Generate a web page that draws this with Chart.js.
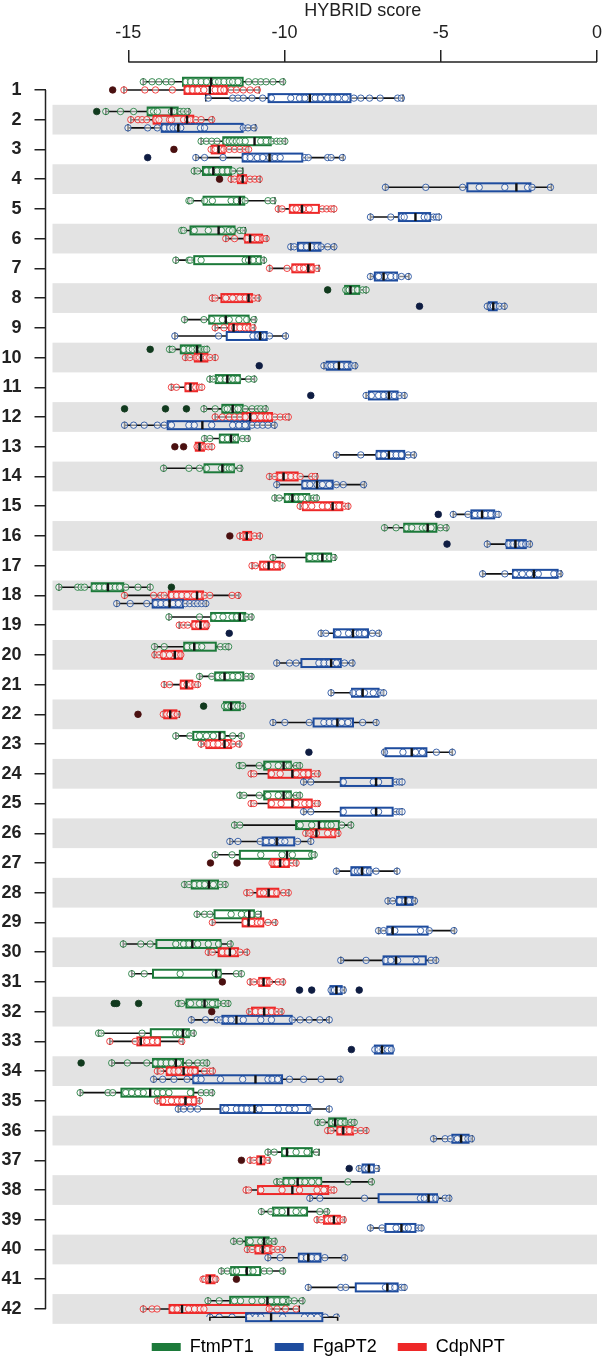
<!DOCTYPE html>
<html>
<head>
<meta charset="utf-8">
<title>HYBRID score</title>
<script src="https://cdn.jsdelivr.net/npm/chart.js@4.4.1/dist/chart.umd.min.js"></script>
<style>
  html, body { margin: 0; padding: 0; background: #fff; overflow: hidden; }
  #chart { display: block; }
</style>
</head>
<body>
<canvas id="chart" width="602" height="1359"></canvas>
<script>
// Kategoriler ve eksen etiketleri
const categories = Array.from({ length: 42 }, (_, i) => i + 1);
const xTicks = [-15, -10, -5, 0];
const xTitle = 'HYBRID score';

// FtmPT1: [alt bıyık, Q1, medyan, Q3, üst bıyık]
const ftmStats = [
  [-14.52, -13.25, -12.35, -11.34, -10.03], [-15.72, -14.38, -13.62, -13.42, -13.06], [-12.67, -11.96, -10.96, -10.44, -9.97],
  [-12.89, -12.61, -12.28, -11.71, -11.34], [-13.06, -12.59, -11.43, -11.29, -10.31], [-13.29, -13.01, -12.11, -11.6, -11.26],
  [-13.48, -12.89, -11.13, -10.76, -10.65], [-8.06, -8.06, -7.89, -7.61, -7.39], [-13.2, -12.41, -11.88, -11.15, -10.93],
  [-13.68, -13.32, -12.8, -12.69, -12.47], [-12.39, -12.2, -11.83, -11.43, -10.96], [-12.58, -11.99, -11.66, -11.34, -10.59],
  [-12.56, -12.07, -11.71, -11.49, -11.15], [-13.87, -12.56, -11.99, -11.62, -11.38], [-10.31, -9.99, -9.75, -9.21, -8.96],
  [-6.8, -6.17, -5.42, -5.14, -4.8], [-10.37, -9.3, -8.79, -8.51, -8.38], [-17.22, -16.17, -15.65, -15.16, -14.3],
  [-13.7, -12.35, -11.43, -11.26, -11.04], [-14.16, -13.21, -12.89, -12.2, -11.79], [-12.72, -12.22, -11.92, -11.32, -11.04],
  [-11.94, -11.94, -11.71, -11.43, -11.32], [-13.48, -12.92, -12.08, -11.92, -11.38], [-11.45, -10.65, -10.03, -9.8, -9.5],
  [-11.43, -10.65, -10.03, -9.8, -9.5], [-11.6, -9.63, -8.9, -8.26, -7.86], [-12.22, -11.43, -9.92, -9.13, -9.02],
  [-13.2, -12.97, -12.42, -12.13, -11.88], [-12.8, -12.24, -11.13, -10.98, -10.76], [-15.16, -14.1, -12.95, -12.05, -11.71],
  [-14.89, -14.21, -12.19, -12.05, -11.38], [-13.4, -13.14, -12.56, -12.13, -11.79], [-15.95, -14.28, -13.25, -13.06, -12.89],
  [-15.53, -14.21, -13.48, -13.25, -12.47], [-16.54, -15.22, -14.3, -12.92, -12.3], [-8.94, -8.57, -8.38, -8.04, -7.75],
  [-10.53, -10.08, -9.92, -9.13, -8.9], [-10.25, -10.03, -9.58, -8.83, -7.19], [-10.74, -10.37, -9.88, -9.28, -8.62],
  [-11.63, -11.24, -10.65, -10.51, -10.29], [-12.02, -11.71, -11.21, -10.78, -10.03], [-12.45, -11.74, -10.55, -9.87, -9.41]
];
const ftmOutliers = [
  [], [-16.01], [], [], [], [], [], [-8.62], [], [-14.3], [], [-15.12, -13.81, -13.14], [], [], [], [], [], [-13.62],
  [], [], [], [-12.59], [], [], [], [], [], [], [], [], [], [-15.45, -15.37, -14.67], [], [-16.51], [], [], [], [], [], [], [], []
];
const ftmPoints = [
  [-14.52, -14.24, -14.02, -13.79, -13.62, -13.17, -13.01, -12.84, -12.67, -12.5, -12.22, -12.11, -11.94, -11.77, -11.66, -11.49, -11.15, -10.93, -10.76, -10.59, -10.37, -10.06],
  [-15.72, -15.25, -14.83, -14.3, -14.19, -14.07, -13.62, -13.54, -13.34, -13.23, -13.1],
  [-12.67, -12.5, -12.33, -12.16, -11.88, -11.77, -11.66, -11.54, -11.43, -11.26, -10.76, -10.59, -10.42, -10.25, -10.14, -9.99],
  [-12.89, -12.78, -12.5, -12.33, -12.16, -11.99, -11.83, -11.66, -11.43],
  [-13.06, -13.01, -12.56, -12.31, -11.71, -11.54, -11.38, -11.26, -10.53, -10.37],
  [-13.29, -13.23, -12.89, -12.44, -12.02, -11.77, -11.66, -11.43, -11.32],
  [-13.48, -13.06, -13.01, -12.67, -11.26, -11.15, -11.01, -10.81, -10.67],
  [-8.04, -7.93, -7.81, -7.67, -7.5, -7.39],
  [-13.2, -12.58, -12.33, -11.99, -11.77, -11.46, -11.21, -10.98],
  [-13.68, -13.59, -13.23, -13.06, -12.95, -12.8, -12.67, -12.56, -12.49],
  [-12.39, -12.28, -12.05, -11.9, -11.77, -11.66, -11.49, -11.15, -10.98],
  [-12.58, -12.22, -11.92, -11.83, -11.6, -11.49, -11.26, -11.04, -10.87, -10.76, -10.62],
  [-12.56, -12.39, -11.99, -11.83, -11.66, -11.54, -11.34, -11.19],
  [-13.87, -13.06, -12.72, -12.5, -12.02, -11.88, -11.77, -11.68, -11.43],
  [-10.31, -10.17, -9.92, -9.75, -9.63, -9.47, -9.24, -9.07, -8.98],
  [-6.8, -6.43, -6.1, -5.93, -5.59, -5.48, -5.31, -5.01, -4.83],
  [-10.37, -9.19, -9.02, -8.85, -8.71, -8.57, -8.42],
  [-17.22, -16.62, -16.51, -16.4, -16.1, -15.93, -15.76, -15.59, -15.42, -15.28, -15.08, -14.69, -14.3],
  [-13.7, -12.72, -12.28, -11.97, -11.68, -11.54, -11.38, -11.21, -11.07],
  [-14.16, -13.85, -13.12, -12.95, -12.8, -12.65, -12.05, -11.9, -11.79],
  [-12.72, -12.33, -12.13, -11.99, -11.83, -11.66, -11.49, -11.21, -11.07],
  [-11.92, -11.83, -11.71, -11.6, -11.49, -11.34],
  [-13.48, -13.03, -12.72, -12.5, -12.28, -11.99, -11.66, -11.38],
  [-11.45, -11.34, -10.81, -10.53, -10.2, -9.95, -9.86, -9.63, -9.52],
  [-11.43, -11.3, -10.81, -10.53, -10.2, -9.95, -9.86, -9.63, -9.52],
  [-11.6, -11.43, -9.5, -9.13, -8.79, -8.62, -8.51, -8.17, -7.88],
  [-12.22, -11.68, -10.76, -10.08, -9.75, -9.13, -9.05],
  [-13.2, -13.06, -12.89, -12.72, -12.56, -12.28, -12.05, -11.9],
  [-12.8, -12.56, -12.39, -11.71, -11.38, -11.19, -11.04, -10.85],
  [-15.16, -14.6, -14.3, -13.48, -13.23, -13.06, -12.78, -12.44, -12.11, -11.74],
  [-14.89, -14.49, -13.34, -12.22, -12.11, -11.54, -11.38],
  [-13.4, -13.29, -13.01, -12.72, -12.56, -12.31, -12.13, -11.94, -11.81],
  [-15.95, -15.87, -14.56, -13.48, -13.37, -13.17, -13.06, -12.92],
  [-15.53, -15.03, -14.41, -14.13, -13.96, -13.79, -13.62, -13.4, -13.06, -12.78, -12.61, -12.49],
  [-16.54, -15.65, -15.5, -15.08, -14.89, -14.69, -14.52, -14.07, -13.9, -13.7, -13.01, -12.67, -12.5, -12.33],
  [-8.94, -8.79, -8.51, -8.38, -8.2, -8.06, -7.88, -7.77],
  [-10.53, -10.33, -9.99, -9.63, -9.28, -8.98],
  [-10.25, -10.14, -9.95, -9.77, -9.5, -9.35, -9.13, -8.9, -7.97, -7.22],
  [-10.74, -10.44, -10.25, -10.08, -9.63, -9.39, -8.87, -8.65],
  [-11.63, -11.43, -11.1, -10.76, -10.62, -10.48, -10.33],
  [-12.02, -11.83, -11.66, -11.54, -11.15, -11.01, -10.65, -10.48, -10.06],
  [-12.45, -12.09, -11.6, -11.41, -11.04, -10.73, -10.43, -10.24, -10.06, -9.85, -9.69, -9.44]
];

// CdpNPT
const cdpStats = [
  [-15.14, -13.2, -12.39, -11.85, -10.81], [-14.92, -14.19, -13.12, -12.92, -12.3], [-12.35, -12.33, -12.11, -11.92, -11.15],
  [-11.71, -11.49, -11.34, -11.23, -10.78], [-10.2, -9.83, -9.44, -8.9, -8.42], [-11.88, -11.26, -11.1, -10.72, -10.56],
  [-10.48, -9.75, -9.24, -9.07, -8.9], [-12.31, -12.02, -11.15, -11.04, -10.81], [-12.22, -11.77, -11.63, -11.1, -10.96],
  [-13.17, -12.87, -12.67, -12.47, -12.22], [-13.62, -13.17, -13.01, -12.8, -12.65], [-12.22, -11.34, -11.1, -10.4, -9.86],
  [-12.84, -12.84, -12.72, -12.58, -12.33], [-10.48, -10.25, -10.03, -9.58, -8.96], [-9.5, -9.41, -8.46, -8.15, -7.95],
  [-11.43, -11.32, -11.21, -11.07, -10.78], [-11.04, -10.78, -10.51, -10.14, -10.06], [-15.12, -13.7, -12.8, -12.61, -11.46],
  [-13.37, -12.95, -12.69, -12.47, -12.44], [-14.17, -13.93, -13.51, -13.29, -13.29], [-13.85, -13.32, -13.14, -12.95, -12.76],
  [-13.88, -13.85, -13.66, -13.46, -13.37], [-12.67, -12.5, -11.92, -11.71, -11.43], [-11.07, -10.51, -9.75, -9.16, -8.9],
  [-11.07, -10.51, -9.75, -9.13, -8.9], [-9.32, -9.16, -8.98, -8.38, -8.26], [-10.42, -10.42, -10.14, -9.86, -9.61],
  [-11.21, -10.87, -10.51, -10.2, -9.86], [-12.31, -11.34, -11.15, -10.68, -10.28], [-12.44, -12.11, -11.75, -11.49, -11.19],
  [-11.1, -10.81, -10.67, -10.48, -10.03], [-11.15, -11.04, -10.65, -10.31, -10.08], [-15.59, -14.71, -14.6, -13.99, -13.25],
  [-14.07, -13.77, -13.23, -12.78, -12.28], [-14.07, -13.96, -13.17, -12.84, -12.72], [-8.62, -8.31, -8.12, -7.81, -7.37],
  [-11.1, -10.87, -10.76, -10.65, -10.48], [-11.23, -10.85, -9.75, -8.6, -8.42], [-8.96, -8.74, -8.42, -8.23, -8.08],
  [-11.19, -10.93, -10.7, -10.42, -10.03], [-12.61, -12.5, -12.39, -12.24, -12.16], [-14.52, -13.68, -13.28, -10.49, -9.53]
];
const cdpOutliers = [
  [-15.5], [], [-13.54], [-12.08], [], [], [], [], [], [], [], [], [-13.51, -13.23], [], [], [-11.75], [], [],
  [], [], [], [-14.69], [], [], [], [], [-12.37, -11.52], [], [], [], [-11.99], [-12.33], [], [], [], [], [-11.38], [], [], [], [-11.54], []
];
const cdpPoints = [
  [-15.14, -14.47, -14.13, -13.59, -13.1, -12.95, -12.78, -12.58, -12.22, -12.05, -11.94, -11.71, -11.54, -11.32, -11.1, -10.87],
  [-14.92, -14.69, -14.56, -14.41, -14.13, -14.02, -13.68, -13.62, -13.23, -13.1, -13.01, -12.84, -12.67, -12.33],
  [-12.35, -12.22, -12.05, -11.94, -11.77, -11.6, -11.43, -11.26, -11.15],
  [-11.71, -11.6, -11.43, -11.34, -11.26, -11.1, -10.95, -10.81],
  [-10.2, -10.08, -9.75, -9.63, -9.41, -9.21, -8.79, -8.65, -8.51, -8.42],
  [-11.88, -11.6, -11.21, -11.04, -10.87, -10.7, -10.59],
  [-10.48, -9.92, -9.69, -9.52, -9.39, -9.19, -9.1, -8.96],
  [-12.31, -12.22, -11.88, -11.66, -11.43, -11.26, -11.12, -10.98, -10.85],
  [-12.22, -11.94, -11.71, -11.6, -11.43, -11.26, -11.15, -11.01],
  [-13.17, -13.03, -12.84, -12.72, -12.61, -12.5, -12.39, -12.22],
  [-13.62, -13.46, -13.1, -12.95, -12.84, -12.72, -12.65],
  [-12.22, -11.99, -11.77, -11.6, -11.43, -11.26, -10.98, -10.76, -10.59, -10.48, -10.31, -10.14, -9.97, -9.88],
  [-12.8, -12.69, -12.56, -12.44, -12.33],
  [-10.48, -10.31, -10.14, -9.97, -9.8, -9.63, -9.5, -9.13, -9.02],
  [-9.5, -9.35, -9.13, -8.79, -8.62, -8.42, -8.26, -8.08, -7.97],
  [-11.43, -11.32, -11.21, -11.1, -10.96, -10.8],
  [-11.04, -10.93, -10.7, -10.59, -10.42, -10.25, -10.08],
  [-15.12, -14.19, -13.96, -13.85, -13.62, -13.46, -13.29, -13.12, -12.89, -12.72, -12.56, -12.39, -11.68, -11.49],
  [-13.37, -13.23, -13.1, -12.89, -12.76, -12.61, -12.49],
  [-14.15, -14.02, -13.88, -13.68, -13.46, -13.32],
  [-13.85, -13.68, -13.25, -13.12, -13.01, -12.87, -12.78],
  [-13.88, -13.77, -13.66, -13.54, -13.43],
  [-12.67, -12.47, -12.28, -12.13, -11.88, -11.66, -11.46],
  [-11.07, -10.98, -10.42, -10.14, -9.63, -9.39, -9.24, -9.05, -8.94],
  [-11.07, -10.98, -10.42, -10.11, -9.63, -9.35, -9.21, -9.02, -8.94],
  [-9.32, -9.19, -8.98, -8.62, -8.42, -8.29],
  [-10.4, -10.25, -10.08, -9.95, -9.75, -9.63],
  [-11.21, -11.1, -10.78, -10.67, -10.4, -10.25, -10.03, -9.88],
  [-12.31, -11.26, -11.04, -10.87, -10.76, -10.53, -10.31],
  [-12.44, -12.31, -11.99, -11.83, -11.66, -11.43, -11.21],
  [-11.1, -10.98, -10.78, -10.62, -10.48, -10.2, -10.06],
  [-11.12, -10.93, -10.76, -10.59, -10.42, -10.25, -10.11],
  [-15.59, -14.78, -14.56, -14.41, -14.22, -14.07, -13.29],
  [-14.07, -13.96, -13.68, -13.54, -13.4, -13.14, -13.01, -12.87, -12.56, -12.39, -12.31],
  [-14.07, -13.9, -13.62, -13.43, -13.29, -13.06, -12.89, -12.72],
  [-8.62, -8.51, -8.23, -8.08, -7.93, -7.75, -7.56, -7.39],
  [-11.1, -10.98, -10.81, -10.67, -10.53],
  [-11.23, -11.15, -10.76, -10.08, -9.52, -8.96, -8.74, -8.51, -8.42],
  [-8.96, -8.83, -8.62, -8.51, -8.34, -8.23, -8.12],
  [-11.19, -11.04, -10.85, -10.7, -10.56, -10.37, -10.22, -10.06],
  [-12.61, -12.56, -12.44, -12.39, -12.33, -12.28, -12.2],
  [-14.52, -14.24, -14.08, -13.59, -13.44, -13.07, -12.88, -12.7, -12.58, -10.49, -10.24, -9.97, -9.63]
];

// FgaPT2
const fgaStats = [
  [-12.52, -10.51, -9.19, -7.89, -6.21], [-15.01, -13.93, -13.4, -11.34, -10.93], [-12.84, -11.34, -10.48, -9.43, -8.12],
  [-6.77, -4.15, -2.58, -2.13, -1.46], [-7.25, -6.34, -5.81, -5.34, -5.05], [-9.8, -9.57, -9.19, -8.85, -8.4],
  [-7.25, -7.11, -6.83, -6.4, -6.02], [-3.51, -3.46, -3.32, -3.21, -2.95], [-13.51, -11.85, -10.78, -10.57, -9.95],
  [-8.74, -8.65, -8.26, -7.89, -7.72], [-7.39, -7.3, -6.66, -6.38, -6.15], [-15.12, -13.74, -12.63, -11.12, -10.31],
  [-8.34, -7.05, -6.66, -6.17, -5.84], [-10.25, -9.43, -8.96, -8.46, -7.44], [-4.6, -4.02, -3.68, -3.29, -3.14],
  [-3.51, -2.89, -2.61, -2.28, -2.13], [-3.66, -2.69, -2.02, -1.26, -1.15], [-15.37, -14.22, -13.68, -13.25, -12.5],
  [-8.83, -8.42, -7.81, -7.33, -6.96], [-10.25, -9.46, -8.51, -8.2, -7.81], [-8.51, -7.84, -7.5, -6.99, -6.83],
  [-10.37, -9.07, -8.31, -7.81, -7.05], [-6.83, -6.77, -5.93, -5.46, -4.63], [-9.39, -8.2, -7.07, -6.54, -6.24],
  [-9.39, -8.2, -7.07, -6.54, -6.24], [-11.75, -10.7, -10.25, -9.69, -9.16], [-8.34, -7.86, -7.52, -7.25, -6.4],
  [-6.69, -6.4, -6.13, -5.9, -5.81], [-6.99, -6.71, -6.54, -5.42, -4.56], [-8.2, -6.83, -6.43, -5.48, -5.14],
  [-8.53, -8.53, -8.34, -8.17, -8.08], [-12.98, -11.99, -11.54, -9.77, -8.57], [-7.11, -7.11, -6.88, -6.54, -6.54],
  [-14.19, -12.92, -10.93, -10.08, -8.2], [-13.4, -12.05, -10.96, -9.19, -8.57], [-5.23, -4.63, -4.35, -4.11, -3.99],
  [-7.63, -7.5, -7.3, -7.14, -6.99], [-9.19, -6.99, -5.39, -5.12, -4.71], [-7.25, -6.77, -6.26, -5.81, -5.61],
  [-10.53, -9.54, -9.24, -8.85, -8.06], [-9.24, -7.72, -6.71, -6.38, -6.15], [-12.39, -11.23, -10.43, -8.79, -8.3]
];
const fgaOutliers = [
  [], [], [-14.38], [], [], [], [], [-5.68], [], [-10.81], [-9.16], [], [], [], [-5.08], [-4.8], [], [],
  [-11.77], [], [], [], [-9.22], [], [], [], [], [], [], [], [-9.52, -9.13, -7.61], [], [-7.86], [], [], [], [-7.93], [], [], [], [], []
];
const fgaPoints = [
  [-12.44, -11.66, -11.49, -11.32, -11.04, -10.7, -10.42, -9.8, -9.52, -9.35, -9.02, -8.85, -8.62, -8.46, -8.29, -8.06, -7.78, -7.56, -7.28, -6.94, -6.38, -6.26],
  [-15.01, -14.38, -14.07, -13.85, -13.68, -13.57, -13.43, -13.32, -12.69, -12.56, -11.32, -11.17, -10.98],
  [-12.84, -12.56, -11.97, -11.26, -11.1, -10.87, -10.7, -10.48, -10.31, -10.14, -9.35, -9.24, -8.62, -8.51, -8.15],
  [-6.77, -5.48, -4.3, -3.77, -2.95, -2.22, -2.08, -1.49],
  [-7.25, -6.6, -6.26, -6.17, -5.53, -5.42, -5.23, -5.14, -5.07],
  [-9.8, -9.69, -9.47, -9.3, -9.13, -8.96, -8.83, -8.62, -8.42],
  [-7.25, -6.99, -6.8, -6.6, -6.43, -6.26, -6.04],
  [-3.51, -3.4, -3.32, -3.23, -3.12, -2.97],
  [-13.51, -12.11, -11.01, -10.87, -10.76, -10.65, -10.48, -9.97],
  [-8.74, -8.62, -8.51, -8.34, -8.17, -8.01, -7.86, -7.75],
  [-7.39, -7.22, -6.99, -6.83, -6.66, -6.49, -6.32, -6.17],
  [-15.12, -14.83, -14.49, -14.07, -13.85, -13.62, -13.06, -12.89, -12.33, -11.66, -11.46, -11.26, -11.04, -10.87, -10.7, -10.53, -10.33],
  [-8.34, -7.56, -6.99, -6.83, -6.6, -6.43, -6.26, -6.04, -5.87],
  [-10.25, -9.35, -9.19, -8.96, -8.79, -8.57, -8.34, -8.12, -7.47],
  [-4.6, -4.13, -3.9, -3.74, -3.57, -3.4, -3.23, -3.16],
  [-3.51, -2.84, -2.69, -2.56, -2.42, -2.28, -2.16],
  [-3.66, -2.95, -2.61, -2.39, -2.16, -1.88, -1.38, -1.19],
  [-15.37, -14.94, -14.41, -14.13, -13.96, -13.79, -13.57, -13.4, -13.17, -13.03, -12.89, -12.78, -12.65, -12.52],
  [-8.83, -8.68, -8.29, -7.95, -7.72, -7.61, -7.44, -7.19, -6.99],
  [-10.25, -9.84, -9.63, -8.9, -8.74, -8.57, -8.34, -8.08, -7.84],
  [-8.51, -7.81, -7.61, -7.44, -7.16, -6.94, -6.83],
  [-10.37, -9.99, -9.21, -8.74, -8.57, -8.4, -8.17, -7.97, -7.5, -7.07],
  [-6.8, -6.21, -5.81, -5.59, -5.14, -4.63],
  [-9.39, -9.16, -8.12, -7.16, -6.99, -6.43, -6.32, -6.24],
  [-9.39, -9.16, -8.12, -7.14, -6.99, -6.43, -6.32, -6.24],
  [-11.75, -11.49, -10.78, -10.59, -10.4, -10.11, -9.99, -9.58, -9.16],
  [-8.34, -7.78, -7.67, -7.56, -7.41, -7.28, -7.07, -6.4],
  [-6.69, -6.54, -6.32, -6.15, -6.02, -5.84],
  [-6.99, -6.83, -6.66, -6.47, -5.65, -5.37, -4.58],
  [-8.2, -7.39, -6.77, -6.6, -6.38, -5.79, -5.31, -5.16],
  [-8.51, -8.4, -8.26, -8.12],
  [-12.98, -12.53, -12.16, -12.05, -11.88, -11.71, -11.32, -10.76, -10.42, -9.75, -9.5, -9.21, -8.87, -8.57],
  [-7.11, -6.99, -6.85, -6.71, -6.58],
  [-14.19, -13.9, -13.54, -13.12, -12.84, -12.67, -12.05, -11.34, -10.53, -10.4, -10.22, -9.84, -9.39, -8.83, -8.22],
  [-13.4, -13.23, -13.01, -12.78, -11.88, -11.54, -11.38, -11.21, -11.04, -10.81, -10.2, -9.86, -9.66, -9.21, -8.57],
  [-5.23, -4.86, -4.69, -4.47, -4.26, -4.13, -4.02],
  [-7.61, -7.44, -7.33, -7.22, -7.05],
  [-9.19, -8.87, -7.44, -5.65, -5.53, -5.31, -5.16, -4.86, -4.74],
  [-7.25, -6.88, -6.43, -6.15, -6.04, -5.72, -5.63],
  [-10.53, -10.14, -9.47, -9.3, -9.13, -8.96, -8.71, -8.08],
  [-9.24, -8.2, -8.04, -6.77, -6.62, -6.47, -6.26, -6.17],
  [-12.39, -12.09, -11.68, -11.13, -10.92, -10.76, -10.06, -9.36, -9.16, -8.95, -8.7, -8.34]
];

// Seriler: renk ve kategori içindeki dikey kaydırma
const series = [
  { name: 'FtmPT1', rgb: [28, 122, 58], dark: '#113a1e', offset: -0.275, stats: ftmStats, points: ftmPoints, outliers: ftmOutliers },
  { name: 'FgaPT2', rgb: [30, 76, 158], dark: '#0f1d42', offset: 0.275, stats: fgaStats, points: fgaPoints, outliers: fgaOutliers },
  { name: 'CdpNPT', rgb: [238, 40, 40], dark: '#4a1010', offset: 0, stats: cdpStats, points: cdpPoints, outliers: cdpOutliers }
];
const drawOrder = [0, 2, 1];

function rgba(rgb, a) {
  return `rgba(${rgb[0]}, ${rgb[1]}, ${rgb[2]}, ${a})`;
}

function toXY(lists, offset) {
  const data = [];
  lists.forEach((list, i) => list.forEach(v => data.push({ x: v, y: categories[i] + offset })));
  return data;
}

const datasets = [];
drawOrder.forEach(k => {
  const s = series[k];
  datasets.push({
    label: s.name,
    data: toXY(s.points, s.offset),
    pointRadius: 3.2,
    pointBorderWidth: 1,
    pointBorderColor: rgba(s.rgb, 0.85),
    pointBackgroundColor: 'rgba(255, 255, 255, 0.5)'
  });
});
drawOrder.forEach(k => {
  const s = series[k];
  datasets.push({
    label: s.name + ' outliers',
    data: toXY(s.outliers, s.offset),
    pointRadius: 3.3,
    pointBorderWidth: 0.8,
    pointBorderColor: s.dark,
    pointBackgroundColor: s.dark
  });
});

// Kutu grafiği çizimi (bantlar, bıyıklar, kutular, medyanlar)
const boxPlugin = {
  id: 'boxes',
  afterLayout(chart) {
    // lejantı çizim alanının ortasına biraz sağa kaydır
    chart.legend.left += 7;
    chart.legend.right += 7;
  },
  beforeDatasetsDraw(chart) {
    const { ctx, chartArea, scales: { x, y } } = chart;
    ctx.save();
    ctx.fillStyle = '#e3e3e3';
    categories.forEach(c => {
      if (c % 2 === 0) {
        const top = y.getPixelForValue(c - 0.5);
        const bottom = y.getPixelForValue(c + 0.5);
        ctx.fillRect(chartArea.left + 7, top, chartArea.right - chartArea.left - 7, bottom - top);
      }
    });
    drawOrder.forEach(k => {
      const s = series[k];
      s.stats.forEach((st, i) => {
        const yc = y.getPixelForValue(categories[i] + s.offset);
        const [lo, q1, , q3, hi] = st.map(v => x.getPixelForValue(v));
        ctx.strokeStyle = '#111';
        ctx.lineWidth = 1.6;
        ctx.beginPath();
        ctx.moveTo(lo, yc); ctx.lineTo(q1, yc);
        ctx.moveTo(q3, yc); ctx.lineTo(hi, yc);
        ctx.moveTo(lo, yc - 3.5); ctx.lineTo(lo, yc + 3.5);
        ctx.moveTo(hi, yc - 3.5); ctx.lineTo(hi, yc + 3.5);
        ctx.stroke();
        ctx.strokeStyle = rgba(s.rgb, 1);
        ctx.lineWidth = 2;
        ctx.strokeRect(q1, yc - 4, q3 - q1, 8);
      });
    });
    ctx.restore();
  },
  afterDatasetsDraw(chart) {
    const { ctx, scales: { x, y } } = chart;
    ctx.save();
    ctx.strokeStyle = '#111';
    ctx.lineWidth = 2.4;
    series.forEach(s => {
      s.stats.forEach((st, i) => {
        const yc = y.getPixelForValue(categories[i] + s.offset);
        const m = x.getPixelForValue(st[2]);
        ctx.beginPath();
        ctx.moveTo(m, yc - 4);
        ctx.lineTo(m, yc + 4);
        ctx.stroke();
      });
    });
    ctx.restore();
  },
  afterDraw(chart) {
    // R tarzı eksen çizgileri: ilk ve son tik arasında, başlık tik aralığının ortasında
    const { ctx, chartArea, scales: { x, y } } = chart;
    const x0 = x.getPixelForValue(xTicks[0]);
    const x1 = x.getPixelForValue(xTicks[xTicks.length - 1]);
    ctx.save();
    ctx.strokeStyle = '#222';
    ctx.lineWidth = 1.5;
    ctx.beginPath();
    ctx.moveTo(x0, chartArea.top);
    ctx.lineTo(x1, chartArea.top);
    ctx.moveTo(chartArea.left, y.getPixelForValue(categories[0]));
    ctx.lineTo(chartArea.left, y.getPixelForValue(categories[categories.length - 1]));
    ctx.stroke();
    ctx.fillStyle = '#222';
    ctx.font = "18px 'Liberation Sans', Arial, sans-serif";
    ctx.textAlign = 'center';
    ctx.textBaseline = 'middle';
    ctx.fillText(xTitle, (x0 + x1) / 2, 11);
    ctx.restore();
  }
};

Chart.defaults.font.family = "'Liberation Sans', Arial, sans-serif";
Chart.defaults.color = '#222';

new Chart(document.getElementById('chart'), {
  type: 'scatter',
  data: { datasets },
  options: {
    responsive: false,
    animation: false,
    events: [],
    devicePixelRatio: 1,
    layout: { padding: { top: 0, left: 0, right: 3, bottom: -7 } },
    plugins: {
      tooltip: { enabled: false },
      legend: {
        position: 'bottom',
        fullSize: false,
        labels: {
          boxWidth: 29,
          boxHeight: 8,
          padding: 21,
          color: '#222',
          font: { size: 18 },
          generateLabels: () => series.map(s => ({
            text: s.name,
            fillStyle: rgba(s.rgb, 1),
            strokeStyle: rgba(s.rgb, 1),
            lineWidth: 0,
            hidden: false
          }))
        }
      }
    },
    scales: {
      x: {
        type: 'linear',
        position: 'top',
        min: -17.65,
        max: 0,
        afterBuildTicks: scale => { scale.ticks = xTicks.map(v => ({ value: v })); },
        afterFit: scale => { scale.height = 62; scale.paddingLeft = 0; scale.paddingRight = 0; },
        grid: { drawOnChartArea: false, tickLength: 12, color: '#222', lineWidth: 1.5 },
        border: { display: false },
        ticks: { color: '#222', font: { size: 18 }, padding: 6, maxRotation: 0, callback: v => String(v) }
      },
      y: {
        type: 'linear',
        reverse: true,
        min: 0.06,
        max: 42.27,
        afterBuildTicks: scale => { scale.ticks = categories.map(v => ({ value: v })); },
        afterFit: scale => { scale.width = 45.5; scale.paddingTop = 0; scale.paddingBottom = 0; },
        grid: { drawOnChartArea: false, tickLength: 11, color: '#222', lineWidth: 1.5 },
        border: { display: false },
        ticks: { color: '#222', font: { size: 18, weight: 'bold' }, padding: 13, autoSkip: false, callback: v => String(v) }
      }
    }
  },
  plugins: [boxPlugin]
});
</script>
</body>
</html>
